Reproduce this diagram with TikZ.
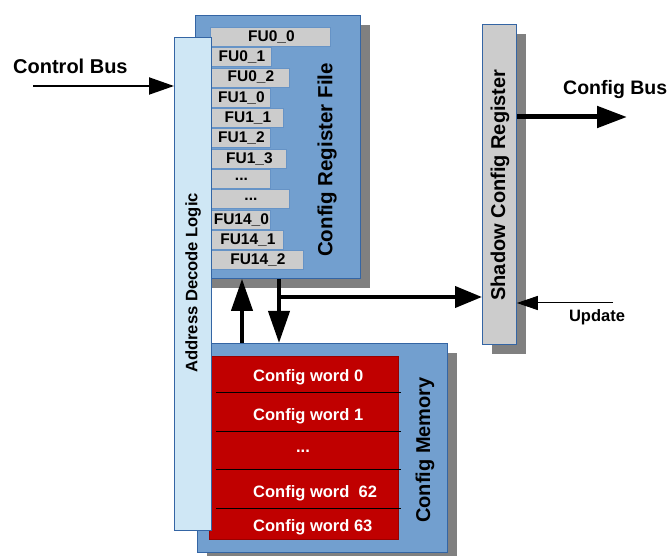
\documentclass[tikz,border=0pt]{standalone}
\usepackage{fontspec}
\setmainfont{Liberation Sans}
\usetikzlibrary{arrows.meta,shadows,calc}
\definecolor{bluefill}{HTML}{729FCF}
\definecolor{blueedge}{HTML}{3465A4}
\definecolor{lightblue}{HTML}{CFE7F5}
\definecolor{greyfill}{HTML}{CCCCCC}
\definecolor{shadowgrey}{HTML}{808080}
\definecolor{memred}{HTML}{C00000}
\newcommand{\mydots}{.{}.{}.}
\tikzset{
  sh/.style={drop shadow={shadow xshift=10pt,shadow yshift=-10pt,fill=shadowgrey,opacity=1}},
  blk/.style={draw=blueedge,line width=0.8pt,inner sep=0pt,anchor=north west},
  fubox/.style={draw=bluefill!80!blueedge,fill=greyfill,line width=0.8pt,inner sep=0pt,anchor=north west,minimum height=19pt,font=\fontsize{15}{17}\selectfont\bfseries},
  wordtxt/.style={text=white,font=\fontsize{16.5}{19}\selectfont\bfseries,inner sep=0pt},
  vlabel/.style={rotate=90,inner sep=0pt},
  thickarr/.style={line width=4pt,-{Triangle[length=32pt,width=21pt]}},
}
\begin{document}
\begin{tikzpicture}[x=1pt,y=-1pt]
\useasboundingbox (0,0) rectangle (670,556);
% Config register file
\node[blk,sh,fill=bluefill,minimum width=165pt,minimum height=263pt] (crf) at (195,15) {};
\node[vlabel,font=\fontsize{20.5}{24}\selectfont\bfseries] (crft) at (327,160) {Config Register File};
% Config memory
\node[blk,sh,fill=bluefill,minimum width=250pt,minimum height=209pt] (mem) at (197,343) {};
\node[draw=memred!80!black,line width=0.6pt,fill=memred,inner sep=0pt,anchor=north west,minimum width=189pt,minimum height=183pt] (red) at (209,356) {};
\foreach \yy/\nm in {392/l1,431/l2,469/l3,508/l4}{
  \coordinate (\nm a) at (216,\yy);
  \coordinate (\nm b) at (401,\yy);
  \draw[line width=0.8pt,black] (\nm a) -- (\nm b);
}
\node[wordtxt,anchor=west] (w0) at (253,377) {Config word 0};
\node[wordtxt,anchor=west] (w1) at (253,416) {Config word 1};
\node[wordtxt] (wd) at (303,451) {\mydots};
\node[wordtxt,anchor=west] (w62) at (253,493) {Config word~ 62};
\node[wordtxt,anchor=west] (w63) at (253,527) {Config word 63};
\node[vlabel,font=\fontsize{20}{24}\selectfont\bfseries] (memt) at (425,450) {Config Memory};
% FU registers
\foreach \i/\r/\t in {0/330/FU0\_0,1/271/FU0\_1,2/289/FU0\_2,3/270/FU1\_0,4/283/FU1\_1,5/270/FU1\_2,6/286/FU1\_3,7/270/\mydots,8/289/\mydots,9/270/FU14\_0,10/283/FU14\_1,11/303/FU14\_2}{
  \node[fubox,minimum width={(\r-210)*1pt}] (fu\i) at (210,{27+20.3*\i}) {};
  \node[font=\fontsize{15.5}{17}\selectfont\bfseries,inner sep=0pt] (fut\i) at ($(fu\i.center)+(1,0)$) {\t};
}
% Address decode logic
\node[blk,fill=lightblue,minimum width=37pt,minimum height=493pt] (adl) at (174,37) {};
\node[vlabel,font=\fontsize{16.6}{19}\selectfont\bfseries] (adlt) at (193,283) {Address Decode Logic};
% Shadow config register
\node[blk,sh,fill=greyfill,minimum width=34pt,minimum height=320pt] (scr) at (482,24) {};
\node[vlabel,font=\fontsize{20}{24}\selectfont\bfseries] (scrt) at (500,185) {Shadow Config Register};
% Labels
\node[font=\fontsize{20}{24}\selectfont\bfseries,anchor=west,inner sep=0pt] (cbl) at (13,66) {Control Bus};
\node[font=\fontsize{19.5}{23}\selectfont\bfseries,anchor=west,inner sep=0pt] (cfgl) at (563,90) {Config Bus};
\node[font=\fontsize{16.5}{19}\selectfont\bfseries,inner sep=0pt] (updl) at (597,317) {Update};
% Connectors
\coordinate (cbs) at (33,86);
\draw[line width=2pt,-{Triangle[length=25pt,width=17pt]}] (cbs) -- (cbs -| adl.west);
\coordinate (cfo) at (627,117);
\draw[line width=5pt,-{Triangle[length=30pt,width=21pt]}] (cfo -| scr.east) -- (cfo);
\coordinate (ups) at (613,303);
\draw[line width=1pt,-{Triangle[length=21pt,width=14pt]}] (ups) -- (ups -| scr.east);
\coordinate (ua) at (242,300);
\draw[thickarr] (ua |- mem.north) -- (ua |- crf.south);
\coordinate (da) at (279,300);
\draw[thickarr] (da |- crf.south) -- (da |- mem.north);
\coordinate (br) at (277,297);
\draw[line width=4pt,-{Triangle[length=27pt,width=21pt]}] (br) -- (br -| scr.west);
\end{tikzpicture}
\end{document}
